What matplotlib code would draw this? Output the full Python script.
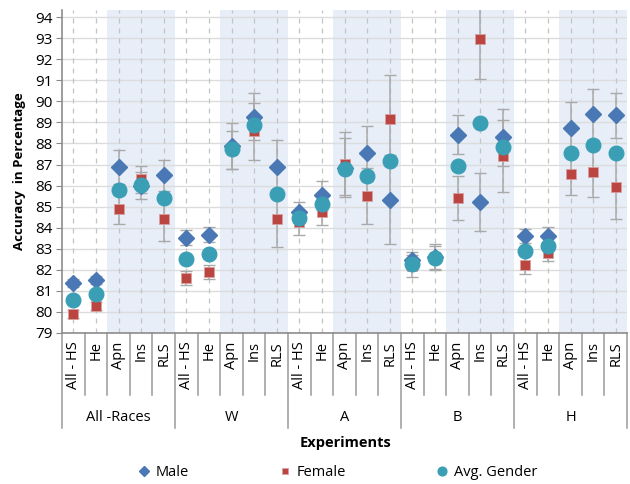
import matplotlib
matplotlib.use("Agg")
import matplotlib.pyplot as plt
import matplotlib.transforms as mtransforms
import numpy as np

plt.rcParams['font.family'] = ['Open Sans', 'DejaVu Sans']

groups = ["All -Races", "W", "A", "B", "H"]
methods = ["All - HS", "He", "Apn", "Ins", "RLS"]

# values per group, in method order
male = [81.37, 81.53, 86.88, 86.00, 86.48,
        83.53, 83.67, 87.88, 89.28, 86.88,
        84.73, 85.53, 86.85, 87.54, 85.33,
        82.45, 82.60, 88.41, 85.22, 88.30,
        83.60, 83.62, 88.73, 89.38, 89.33]
female = [79.89, 80.27, 84.87, 86.29, 84.43,
          81.61, 81.90, 87.67, 88.57, 84.43,
          84.25, 84.74, 87.04, 85.49, 89.14,
          82.18, 82.61, 85.42, 92.94, 87.40,
          82.23, 82.80, 86.53, 86.66, 85.91]
avg_gender = [80.55, 80.87, 85.77, 86.04, 85.41,
              82.53, 82.77, 87.72, 88.87, 85.61,
              84.46, 85.11, 86.77, 86.45, 87.15,
              82.29, 82.58, 86.91, 88.98, 87.83,
              82.89, 83.13, 87.56, 87.94, 87.56]
male_err = [0.20, 0.20, 0.80, 0.65, 0.75,
            0.35, 0.35, 1.10, 1.10, 1.30,
            0.50, 0.70, 1.40, 1.30, 2.10,
            0.40, 0.55, 0.92, 1.37, 1.35,
            0.35, 0.40, 1.25, 1.20, 1.06]
female_err = [0.20, 0.20, 0.70, 0.65, 1.05,
              0.35, 0.35, 0.90, 1.35, 1.35,
              0.60, 0.60, 1.50, 1.33, 2.10,
              0.50, 0.60, 1.05, 1.90, 1.70,
              0.45, 0.40, 1.00, 1.20, 1.48]

n = len(male)
x = np.arange(n)

fig = plt.figure(figsize=(6.3, 4.84), dpi=100)
ax = fig.add_axes([0.0984, 0.312, 0.897, 0.667])

# shaded bands over Apn..RLS of each group
for g in range(len(groups)):
    ax.axvspan(g * 5 + 1.5, g * 5 + 4.5, color="#e7eef8", zorder=0, lw=0)

for v in range(79, 95):
    ax.axhline(v, color="#dcdcdc", lw=1, zorder=1)
for xi in x:
    ax.axvline(xi, color="#c4c4c4", lw=0.9, ls=(0, (4, 4)), zorder=1)

ecol = "#a9a9a9"
ax.errorbar(x, male, yerr=male_err, fmt="none", ecolor=ecol, elinewidth=1.1,
            capsize=4, capthick=1, zorder=2)
ax.errorbar(x, female, yerr=female_err, fmt="none", ecolor=ecol, elinewidth=1.1,
            capsize=4, capthick=1, zorder=2)

ax.plot(x, male, "D", color="#4a78b4", ms=8, mec="#4a78b4", zorder=3, label="Male")
ax.plot(x, female, "s", color="#bb4540", ms=7.5, mec="#d8a0a0", mew=0.6, zorder=4, label="Female")
ax.plot(x, avg_gender, "o", color="#3a9fb5", ms=10.5, mec="#3a9fb5", zorder=5, label="Avg. Gender")

ax.set_xlim(-0.5, n - 0.5)
ax.set_ylim(79, 94.33)
ax.set_yticks(range(79, 95))
ax.tick_params(axis="y", labelsize=11, length=4, color="#888888", pad=3)

ax.set_xticks(x)
ax.set_xticklabels(methods * len(groups), rotation=90, fontsize=10.5)
ax.tick_params(axis="x", length=0, pad=6)

for s in ["top", "right"]:
    ax.spines[s].set_visible(False)
for s in ["left", "bottom"]:
    ax.spines[s].set_color("#8c8c8c")
    ax.spines[s].set_linewidth(1.2)

trans = mtransforms.blended_transform_factory(ax.transData, ax.transAxes)
for b in range(n + 1):
    depth = -0.294 if b % 5 == 0 else -0.192
    ax.plot([b - 0.5, b - 0.5], [0, depth], color="#9a9a9a", lw=1.1,
            transform=trans, clip_on=False)
for g, name in enumerate(groups):
    ax.text(g * 5 + 2, -0.262, name, transform=trans, ha="center", va="center",
            fontsize=10.5)

ax.set_ylabel("Accuracy  in Percentage", fontsize=9.5, fontweight="bold", labelpad=6)
fig.text(0.549, 0.085, "Experiments", ha="center", va="center", fontsize=10.5,
         fontweight="bold")

fig.legend(loc="center", bbox_to_anchor=(0.535, 0.023), ncol=3, frameon=False,
           fontsize=10.5, columnspacing=6.1, handlelength=1.0, handletextpad=0.3,
           markerscale=0.6)

fig.savefig("out.png", dpi=100)
